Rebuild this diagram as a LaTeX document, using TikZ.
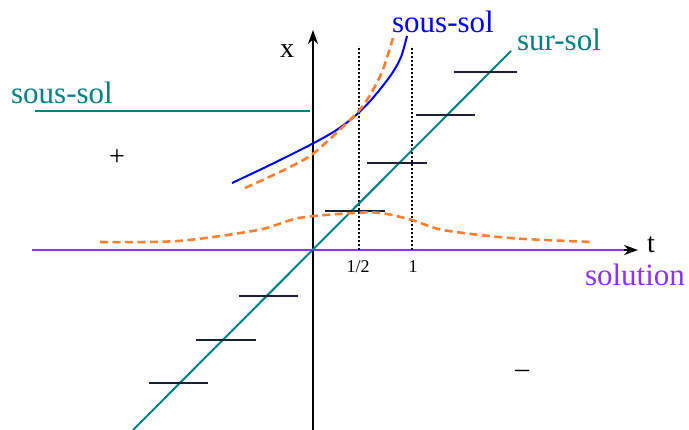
\documentclass[tikz,border=0pt]{standalone}
\usepackage{fontspec}
\setmainfont{Liberation Serif}
\usetikzlibrary{arrows.meta}
\definecolor{tealc}{RGB}{0,128,128}
\definecolor{orangec}{RGB}{255,128,48}
\definecolor{purplec}{RGB}{136,51,255}
\definecolor{segc}{RGB}{26,32,48}
\tikzset{
  axis/.style={line width=2.2pt,black,-{Stealth[length=14pt,width=10pt]}},
  tang/.style={line width=2pt,segc},
  dotv/.style={line width=1.8pt,black,dash pattern=on 1.8pt off 2.2pt},
  orangedash/.style={line width=2.6pt,orangec,dash pattern=on 8pt off 4.5pt},
  bluec/.style={line width=2pt,blue},
  big/.style={font=\fontsize{31}{36}\selectfont,inner sep=0pt},
  mid/.style={font=\fontsize{28}{32}\selectfont,inner sep=0pt},
  small/.style={font=\fontsize{18}{22}\selectfont,inner sep=0pt}
}
\begin{document}
\begin{tikzpicture}[x=1pt,y=-1pt]
\useasboundingbox (0,0) rectangle (689,430);
% axes
\coordinate (xl) at (32,250);
\coordinate (xr) at (638,250);
\coordinate (yb) at (313,430);
\coordinate (yt) at (313,30);
\draw[axis] (xl) -- (xr);
\draw[axis] (yb) -- (yt);
% solution line
\coordinate (sl) at (32,250);
\coordinate (sr) at (624,250);
\draw[line width=2.2pt,purplec] (sl) -- (sr);
% dotted verticals
\coordinate (dh0) at (359,250); \coordinate (dh1) at (359,46);
\coordinate (do0) at (412,250); \coordinate (do1) at (412,46);
\draw[dotv] (dh0) -- (dh1);
\draw[dotv] (do0) -- (do1);
% sur-sol diagonal
\coordinate (d0) at (133,430); \coordinate (d1) at (511,51);
\draw[line width=2pt,tealc] (d0) -- (d1);
% left sous-sol line
\coordinate (ls0) at (35,111); \coordinate (ls1) at (310,111);
\draw[line width=2pt,tealc] (ls0) -- (ls1);
% tangent segments
\draw[tang] (454,72) -- (517,72);
\draw[tang] (416,115) -- (475,115);
\draw[tang] (367,163) -- (427,163);
\draw[tang] (325,211) -- (385,211);
\draw[tang] (239,296) -- (298,296);
\draw[tang] (196,340) -- (256,340);
\draw[tang] (149,383) -- (208,383);
% blue sous-sol curve
\draw[bluec] plot[smooth,tension=0.5] coordinates {(232,183) (270,165) (310,145) (335,131) (355,116) (372,99) (391,75) (401,57) (407,36)};
% orange upper curve
\draw[orangedash] plot[smooth,tension=0.5] coordinates {(245,188) (267,178) (290,167) (310,156) (330,139) (355,115) (367,100) (382,72) (393,38)};
% orange bump
\draw[orangedash] plot[smooth,tension=0.5] coordinates {(100,242) (178,241) (258,230) (299,218) (353,213) (381,213) (412,220) (443,230) (510,238) (592,242)};
% labels
\node[mid] (lx) at (287,51) {x};
\node[mid] (lt) at (651,245) {t};
\node[small] (lh) at (358,267) {1/2};
\node[small] (l1) at (413,267) {1};
\node[big,text=purplec] (lsol) at (635,275) {solution};
\node[big,text=blue] (lss) at (443,22) {sous-sol};
\node[big,text=tealc] (lsur) at (559,40) {sur-sol};
\node[big,text=tealc] (lls) at (62,93) {sous-sol};
\node[mid] (plus) at (117,158) {+};
\node[mid] (minus) at (522,374) {–};
\end{tikzpicture}
\end{document}
